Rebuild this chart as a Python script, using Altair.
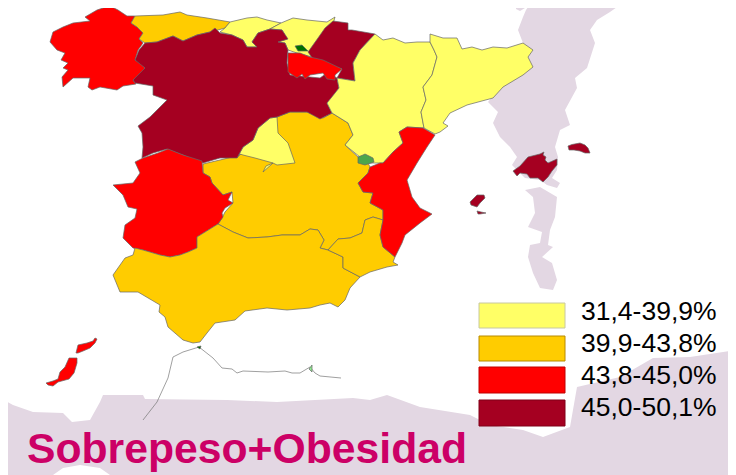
import altair as alt

# colour classes
CLASSES = ["31,4-39,9%", "39,9-43,8%", "43,8-45,0%", "45,0-50,1%"]
CLASS_FILL = ["#FFFF66", "#FFCC00", "#FF0000", "#A50021"]
CLASS_EDGE = ["#C8C8A0", "#B88A00", "#C00000", "#800018"]
TITLE = "Sobrepeso+Obesidad"

# background (map pixels)
bg_north = [[533,0],[627,0],[610,12],[597,20],[590,30],[595,43],[587,68],[575,78],[577,88],[565,110],[570,125],[560,130],[555,147],[558,157],[557,170],[552,178],[560,183],[557,188],[547,185],[540,180],[525,178],[512,165],[517,157],[510,147],[500,137],[493,123],[498,112],[488,102],[505,80],[523,43],[518,30],[523,17],[526,10]]
bg_blob = [[516,4],[522,2],[525,8],[520,11],[516,9]]
bg_south = [[525,190],[540,187],[557,197],[555,217],[550,230],[548,245],[553,247],[542,257],[552,263],[557,280],[553,290],[540,288],[533,273],[528,257],[530,245],[540,243],[542,232],[528,227],[535,213],[533,197]]
bg_bottom = [[0,398],[13,405],[33,412],[63,413],[72,422],[90,420],[100,402],[103,395],[143,395],[145,399],[227,400],[277,402],[353,398],[370,400],[387,395],[420,407],[470,415],[490,425],[523,430],[543,437],[570,427],[577,387],[620,377],[653,358],[690,357],[736,350],[736,475],[110,475],[100,468],[80,465],[63,468],[53,475],[0,475]]

# regions
castilla_la_mancha = [[203,164],[220,160],[240,155],[277,117],[290,112],[307,112],[323,118],[332,113],[348,123],[353,135],[345,145],[358,157],[368,163],[370,167],[368,173],[358,183],[363,192],[373,193],[370,203],[383,210],[383,220],[373,217],[365,220],[362,233],[350,238],[338,239],[328,250],[320,248],[324,240],[318,230],[310,229],[300,235],[282,235],[267,237],[248,238],[233,232],[218,224],[222,218],[225,212],[233,203],[232,192],[223,195],[212,183],[210,177],[203,173]]
madrid = [[277,117],[278,133],[288,143],[295,163],[277,165],[273,163],[263,172],[266,166],[273,163],[255,158],[243,155],[240,154],[237,158],[243,147],[253,140],[258,128],[270,118]]
galicia = [[110,6],[118,10],[127,16],[135,16],[131,23],[137,27],[143,33],[139,39],[143,43],[138,50],[135,60],[140,63],[145,68],[142,74],[133,80],[136,84],[123,86],[117,90],[100,87],[92,90],[88,87],[90,78],[73,78],[63,87],[62,77],[68,70],[63,68],[68,63],[61,60],[65,53],[57,50],[50,42],[53,32],[63,27],[73,23],[90,21],[85,17],[97,10],[103,8]]
asturias = [[135,16],[163,15],[180,12],[187,15],[207,18],[230,22],[225,28],[218,30],[210,32],[197,35],[183,41],[173,36],[157,42],[145,43],[139,39],[143,33],[137,27],[131,23]]
cantabria = [[230,22],[247,18],[257,17],[267,20],[281,23],[270,29],[258,33],[252,42],[257,47],[247,47],[243,40],[232,35],[220,32],[225,28]]
pais_vasco = [[281,23],[293,18],[307,20],[327,22],[335,17],[333,24],[323,33],[317,43],[313,52],[312,57],[297,53],[288,50],[285,43],[278,42],[287,39],[282,30],[270,29]]
navarra = [[333,21],[348,23],[348,30],[352,30],[375,34],[360,50],[353,63],[355,81],[337,78],[342,69],[313,59],[308,52],[318,38],[325,28]]
la_rioja = [[288,53],[300,53],[310,57],[323,60],[342,69],[335,75],[335,80],[327,79],[323,73],[310,75],[305,79],[302,74],[297,78],[288,72]]
castilla_leon = [[145,43],[157,42],[173,36],[183,41],[197,35],[210,32],[215,28],[220,33],[232,35],[243,40],[247,47],[257,47],[252,42],[258,33],[270,29],[282,30],[288,39],[278,42],[285,43],[288,50],[287,63],[290,75],[320,78],[327,73],[337,78],[339,88],[333,97],[327,103],[332,113],[320,119],[307,112],[290,112],[277,117],[270,118],[258,128],[253,140],[243,147],[237,158],[220,158],[203,163],[183,155],[167,149],[153,153],[142,158],[143,147],[142,133],[138,126],[150,117],[167,100],[153,95],[153,86],[135,83],[133,80],[145,68],[135,60],[139,50]]
extremadura = [[168,149],[183,155],[202,161],[203,173],[210,177],[212,183],[223,195],[232,192],[228,200],[233,203],[225,208],[222,213],[223,217],[218,224],[197,237],[197,248],[188,252],[180,255],[170,257],[160,255],[143,250],[133,248],[123,238],[125,225],[135,218],[137,209],[128,207],[123,195],[113,185],[133,183],[140,173],[135,162],[143,158],[158,153]]
andalucia = [[135,248],[143,250],[160,255],[170,257],[180,255],[188,252],[197,248],[197,237],[218,224],[233,232],[248,238],[267,237],[282,235],[300,235],[310,229],[318,230],[324,240],[320,248],[328,250],[343,257],[343,268],[360,277],[350,288],[345,300],[338,307],[330,303],[320,305],[310,308],[287,310],[267,308],[245,311],[235,320],[215,323],[207,333],[200,342],[193,343],[183,340],[168,327],[165,317],[159,312],[160,305],[138,292],[120,292],[113,275],[125,258],[133,255]]
murcia = [[328,250],[338,239],[350,238],[362,233],[365,220],[373,217],[383,220],[380,235],[383,247],[395,257],[393,262],[398,265],[387,267],[370,272],[360,277],[343,268],[343,257]]
valencia = [[407,127],[423,128],[435,135],[427,147],[417,163],[407,180],[412,197],[420,208],[432,214],[420,223],[405,235],[402,243],[395,257],[383,247],[380,235],[383,220],[383,210],[370,203],[373,193],[363,192],[358,183],[368,173],[370,167],[380,163],[383,163],[393,152],[403,143],[399,132]]
aragon = [[375,34],[383,40],[393,38],[405,43],[417,42],[430,42],[434,50],[437,57],[432,75],[423,87],[426,100],[421,112],[424,128],[407,127],[399,132],[403,143],[393,152],[383,163],[380,163],[369,163],[360,157],[345,145],[353,135],[348,123],[332,113],[327,103],[339,88],[337,78],[355,81],[353,63],[360,50]]
cataluna = [[430,34],[443,38],[457,38],[462,49],[472,47],[482,50],[493,47],[507,48],[523,43],[533,50],[528,57],[533,67],[523,75],[503,87],[493,98],[467,105],[450,113],[443,123],[448,126],[440,132],[435,134],[424,128],[421,112],[426,100],[423,87],[432,75],[437,57],[434,50],[430,42]]
mallorca = [[513,171],[520,166],[528,157],[540,154],[544,152],[543,155],[546,157],[545,160],[548,163],[557,159],[557,165],[552,171],[548,177],[543,182],[538,178],[530,178],[527,174],[520,173],[517,176]]
menorca = [[568,146],[572,144.5],[580,143],[585,145],[588,148],[590,153],[585,153],[580,151],[574,150],[569,150]]
ibiza = [[470,202],[473,199],[477,195],[484,195],[485,198],[480,203],[477,207],[471,205]]
formentera = [[477,211],[481,212],[486,213],[480,214],[478,214]]
lanzarote = [[76,353],[78,345],[87,343],[93,341],[95,338],[97,339],[95,343],[90,348],[83,351],[78,353]]
fuerteventura = [[46,383],[53,381],[58,379],[60,372],[65,367],[69,358],[77,358],[77,363],[74,373],[69,379],[58,382],[53,386],[48,385]]
gran_canaria = [[0,379],[3,378],[6,388],[0,395]]
trevino = [[295,46],[302,45],[308,51],[298,51]]
ademuz = [[358,157],[363,155],[365,154],[373,158],[374,162],[365,165],[358,163]]
ceuta = [[197,347],[201,346],[200,349]]
melilla = [[309,369],[312,365],[312,372]]
africa_west = [[143,420],[157,402],[168,378],[173,357],[183,352],[199,347]]
africa_east = [[199,347],[213,358],[222,368],[232,369],[237,373],[243,371],[268,372],[285,371],[292,373],[300,373],[310,367],[315,373],[320,376],[341,378]]

# legend swatches
swatch_x = [479, 565]
swatch_y = [[303, 328], [336, 361], [367, 393], [400, 426]]
label_x = 581
label_base = [320, 352, 384, 416]


def poly(points, fill, edge="#666666", width=0.7):
    ring = list(points) + [points[0]]
    return {"type": "Feature", "geometry": {"type": "Polygon", "coordinates": [ring]},
            "properties": {"fill": fill, "edge": edge, "width": width}}


def line(points):
    return {"type": "Feature", "geometry": {"type": "LineString", "coordinates": points},
            "properties": {}}


proj = dict(type="identity", scale=1, translate=[-8, -8])


def shapes(features):
    return alt.Chart(alt.Data(values=features)).mark_geoshape().encode(
        fill=alt.Fill("properties.fill:N", scale=None),
        stroke=alt.Stroke("properties.edge:N", scale=None),
        strokeWidth=alt.StrokeWidth("properties.width:Q", scale=None),
    ).project(**proj)


BG = "#E3D7E3"
Y, O, R, D = CLASS_FILL
LG, DG = "#4CA64C", "#007000"

back = [poly(p, BG, BG, 0) for p in (bg_north, bg_blob, bg_south, bg_bottom)]
regions = [poly(castilla_la_mancha, O), poly(madrid, Y), poly(galicia, R), poly(asturias, O),
           poly(cantabria, Y), poly(pais_vasco, Y), poly(navarra, D), poly(castilla_leon, D),
           poly(la_rioja, R), poly(extremadura, R), poly(andalucia, O), poly(murcia, O),
           poly(aragon, Y), poly(cataluna, Y), poly(valencia, R), poly(mallorca, D),
           poly(menorca, D), poly(ibiza, D), poly(formentera, D), poly(lanzarote, R),
           poly(fuerteventura, R), poly(gran_canaria, R), poly(trevino, DG), poly(ademuz, LG),
           poly(ceuta, DG), poly(melilla, "#90EE90")]
swatches = [poly([[swatch_x[0], a], [swatch_x[1], a], [swatch_x[1], b], [swatch_x[0], b]], f, e, 1)
            for (a, b), f, e in zip(swatch_y, CLASS_FILL, CLASS_EDGE)]

coast = alt.Chart(alt.Data(values=[line(africa_west), line(africa_east)])).mark_geoshape(
    filled=False, stroke="#777777", strokeWidth=0.7).project(**proj)

labels = alt.layer(*[
    alt.Chart(alt.Data(values=[{"t": c}])).mark_text(
        font="Liberation Sans", fontSize=26.5, align="left", baseline="alphabetic", color="#000000"
    ).encode(text="t:N", x=alt.value(label_x - 8), y=alt.value(b - 8))
    for c, b in zip(CLASSES, label_base)
])
title = alt.Chart(alt.Data(values=[{"t": TITLE}])).mark_text(
    font="Liberation Sans", fontSize=42.7, fontWeight="bold", align="left", baseline="alphabetic", color="#CC0066"
).encode(text="t:N", x=alt.value(27 - 8), y=alt.value(463 - 8))

chart = alt.layer(shapes(back), coast, shapes(regions), shapes(swatches), labels, title).properties(
    width=720, height=467, padding=0, autosize=alt.AutoSizeParams(type="none")
).configure_view(stroke=None)

chart.save("out.html", embed_options={"renderer": "svg", "actions": False})
